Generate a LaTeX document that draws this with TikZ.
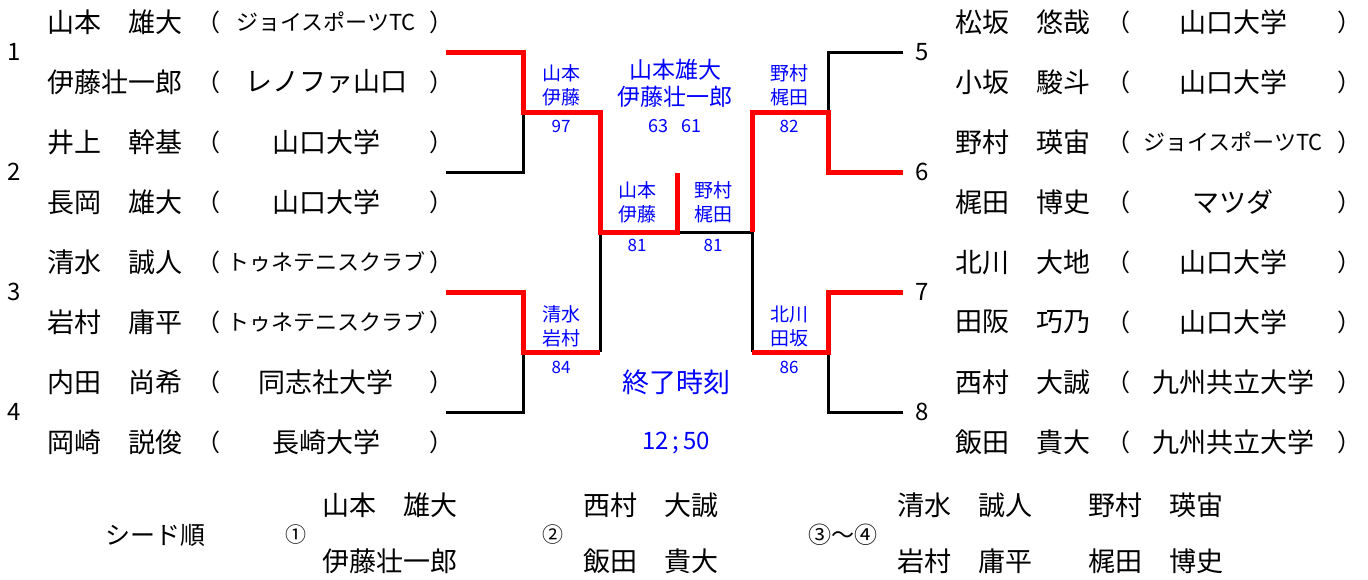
\documentclass[tikz,border=0pt]{standalone}
\usepackage{fontspec}
\setmainfont{Noto Sans CJK JP}
\definecolor{labelblue}{RGB}{0,0,255}
\definecolor{winred}{RGB}{255,0,0}
\tikzset{
  player/.style={anchor=west, inner sep=0pt, font=\fontsize{27}{30}\selectfont},
  club/.style={inner sep=0pt, font=\fontsize{27}{30}\selectfont},
  paren/.style={inner sep=0pt, font=\fontsize{24}{30}\selectfont},
  drawnum/.style={inner sep=0pt, font=\fontsize{24}{28}\selectfont},
  pairlabel/.style={inner sep=0pt, align=center, text=labelblue, font=\fontsize{19}{24}\selectfont},
  score/.style={inner sep=0pt, text=labelblue, font=\fontsize{17}{20}\selectfont},
  lose/.style={line width=3pt},
  win/.style={draw=winred, line width=5pt},
}
\newcommand\smallclub[1]{{\fontsize{22}{26}\selectfont #1}}

\begin{document}
\begin{tikzpicture}[x=1pt, y=-1pt]
    \useasboundingbox (0,0) rectangle (1368,579);

    % left half of the draw
    \foreach \k/\pname/\cname in {1/山本　雄大/\smallclub{ジョイスポーツTC}, 2/伊藤壮一郎/レノファ山口,
        3/井上　幹基/山口大学, 4/長岡　雄大/山口大学, 5/清水　誠人/\smallclub{トゥネテニスクラブ},
        6/岩村　庸平/\smallclub{トゥネテニスクラブ}, 7/内田　尚希/同志社大学, 8/岡崎　説俊/長崎大学} {
        \node[player] (lp\k) at (47, {22+60*(\k-1)}) {\pname};
        \node[paren] (lo\k) at (208, {22+60*(\k-1)}) {（};
        \node[club] (lc\k) at (326, {22+60*(\k-1)}) {\cname};
        \node[paren] (lx\k) at (441, {22+60*(\k-1)}) {）};
    }
    % right half of the draw
    \foreach \k/\pname/\cname in {1/松坂　悠哉/山口大学, 2/小坂　駿斗/山口大学,
        3/野村　瑛宙/\smallclub{ジョイスポーツTC}, 4/梶田　博史/マツダ, 5/北川　大地/山口大学,
        6/田阪　巧乃/山口大学, 7/西村　大誠/九州共立大学, 8/飯田　貴大/九州共立大学} {
        \node[player] (rp\k) at (955, {22+60*(\k-1)}) {\pname};
        \node[paren] (ro\k) at (1118, {22+60*(\k-1)}) {（};
        \node[club] (rc\k) at (1233, {22+60*(\k-1)}) {\cname};
        \node[paren] (rx\k) at (1349, {22+60*(\k-1)}) {）};
    }
    \foreach \k in {1,...,4}
        \node[drawnum] (ln\k) at (14, {52+120*(\k-1)}) {\k};
    \foreach \k in {5,...,8}
        \node[drawnum] (rn\k) at (922, {52+120*(\k-5)}) {\k};

    % bracket points
    \coordinate (e1) at (446,52);
    \coordinate (e2) at (446,172);
    \coordinate (e3) at (446,292);
    \coordinate (e4) at (446,412);
    \coordinate (e5) at (903,52);
    \coordinate (e6) at (903,172);
    \coordinate (e7) at (903,292);
    \coordinate (e8) at (903,412);
    \coordinate (m12) at (523,112);
    \coordinate (m34) at (523,352);
    \coordinate (m56) at (828,112);
    \coordinate (m78) at (828,352);
    \coordinate (s1) at (600,232);
    \coordinate (s2) at (752,232);
    \coordinate (f) at (677,232);
    \coordinate (c) at (677,173);

    \draw[lose] (e2) -| (m12);
    \draw[lose] (e4) -| (m34);
    \draw[lose] (e5) -| (m56);
    \draw[lose] (e8) -| (m78);
    \draw[lose] (s1) -- (s1 |- m34);
    \draw[lose] (s2) -- (s2 |- m78);
    \draw[lose] (f) -- (s2);
    \draw[win] (e1) -| (m12) -- (m12 -| s1) -- (s1) -- (f) -- (c);
    \draw[win] (e3) -| (m34) -- (m34 -| s1);
    \draw[win] (e6) -| (m56) -- (m56 -| s2) -- (s2);
    \draw[win] (e7) -| (m78) -- (m78 -| s2);

    % results
    \node[pairlabel] (w12) at (561,85) {山本\\伊藤};
    \node[score] (w12s) at (561,126) {97};
    \node[pairlabel, font=\fontsize{23}{27}\selectfont] (champ) at (675,83) {山本雄大\\伊藤壮一郎};
    \node[score, font=\fontsize{18}{20}\selectfont] (champs) at (675,126) {63\hspace{13pt}61};
    \node[pairlabel] (w56) at (789,85) {野村\\梶田};
    \node[score] (w56s) at (789,126) {82};
    \node[pairlabel] (sf1) at (637,202) {山本\\伊藤};
    \node[score] (sf1s) at (637,245) {81};
    \node[pairlabel] (sf2) at (713,202) {野村\\梶田};
    \node[score] (sf2s) at (713,245) {81};
    \node[pairlabel] (w34) at (561,326) {清水\\岩村};
    \node[score] (w34s) at (561,367) {84};
    \node[pairlabel] (w78) at (789,326) {北川\\田坂};
    \node[score] (w78s) at (789,367) {86};
    \node[pairlabel, font=\fontsize{27}{30}\selectfont] (endlabel) at (676,382) {終了時刻};
    \node[score, font=\fontsize{24}{28}\selectfont] (endtime) at (676,443) {12\,;\,50};

    % seeds
    \node[inner sep=0pt, font=\fontsize{25}{30}\selectfont] (seedlabel) at (155,535) {シード順};
    \node[paren, font=\fontsize{21}{24}\selectfont] (seed1) at (296,535) {①};
    \node[player] (seed1a) at (322,505) {山本　雄大};
    \node[player] (seed1b) at (322,561) {伊藤壮一郎};
    \node[paren, font=\fontsize{21}{24}\selectfont] (seed2) at (553,535) {②};
    \node[player] (seed2a) at (583,505) {西村　大誠};
    \node[player] (seed2b) at (583,561) {飯田　貴大};
    \node[paren, font=\fontsize{23}{24}\selectfont] (seed3) at (843,535) {③～④};
    \node[player] (seed3a) at (897,505) {清水　誠人};
    \node[player] (seed3b) at (897,561) {岩村　庸平};
    \node[player] (seed4a) at (1088,505) {野村　瑛宙};
    \node[player] (seed4b) at (1088,561) {梶田　博史};
\end{tikzpicture}
\end{document}
